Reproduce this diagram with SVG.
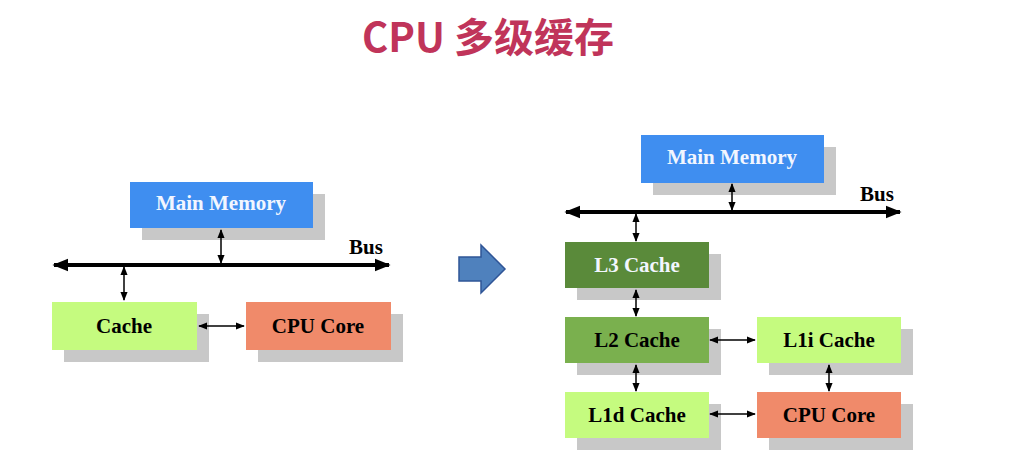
<svg xmlns="http://www.w3.org/2000/svg" width="1034" height="460" viewBox="0 0 1034 460">
<style>
.sh{fill:#c8c8c8}
.t{font-family:"Liberation Serif",serif;font-weight:bold;font-size:21px;text-anchor:middle}
.w{fill:#f2f6ff}
.bus{stroke:#000;stroke-width:4}
.c{stroke:#000;stroke-width:1.5;fill:none}
</style>
<defs>
<marker id="a" viewBox="0 0 10 10" refX="9" refY="5" markerWidth="6" markerHeight="6" orient="auto-start-reverse"><path d="M0,1L10,5L0,9z" fill="#000"/></marker>
<marker id="b" viewBox="0 0 10 10" refX="9" refY="5" markerWidth="4" markerHeight="4" orient="auto-start-reverse"><path d="M0,1L10,5L0,9z" fill="#000"/></marker>
</defs>
<rect width="1034" height="460" fill="#fff"/>
<text x="488" y="52" font-family="'Noto Sans CJK SC',sans-serif" font-weight="bold" font-size="40" fill="#c0345a" text-anchor="middle">CPU 多级缓存</text>
<g id="arrow"><path d="M459,257h22v-12l24,24l-24,24v-12h-22z" fill="#4f81bd" stroke="#2f5597" stroke-width="1.5"/></g>
<g id="mm1"><rect class="sh" x="142" y="194" width="183" height="46"/><rect x="130" y="182" width="183" height="46" fill="#3f8ef0"/><text class="t w" x="221" y="210">Main Memory</text></g>
<g id="cache1"><rect class="sh" x="64" y="314" width="145" height="48"/><rect x="52" y="302" width="145" height="48" fill="#c5fb7f"/><text class="t" x="124" y="333">Cache</text></g>
<g id="core1"><rect class="sh" x="258" y="314" width="145" height="48"/><rect x="246" y="302" width="145" height="48" fill="#f08a6a"/><text class="t" x="318" y="333">CPU Core</text></g>
<g id="mm2"><rect class="sh" x="653" y="147" width="183" height="48"/><rect x="641" y="135" width="183" height="48" fill="#3f8ef0"/><text class="t w" x="732" y="164">Main Memory</text></g>
<g id="l3"><rect class="sh" x="577" y="254" width="144" height="46"/><rect x="565" y="242" width="144" height="46" fill="#5a8a3a"/><text class="t w" x="637" y="272">L3 Cache</text></g>
<g id="l2"><rect class="sh" x="577" y="329" width="144" height="46"/><rect x="565" y="317" width="144" height="46" fill="#7ab04e"/><text class="t" x="637" y="347">L2 Cache</text></g>
<g id="l1i"><rect class="sh" x="769" y="329" width="144" height="46"/><rect x="757" y="317" width="144" height="46" fill="#c5fb7f"/><text class="t" x="829" y="347">L1i Cache</text></g>
<g id="l1d"><rect class="sh" x="577" y="404" width="144" height="46"/><rect x="565" y="392" width="144" height="46" fill="#c5fb7f"/><text class="t" x="637" y="422">L1d Cache</text></g>
<g id="core2"><rect class="sh" x="769" y="404" width="144" height="46"/><rect x="757" y="392" width="144" height="46" fill="#f08a6a"/><text class="t" x="829" y="422">CPU Core</text></g>
<g id="connectors">
<line class="bus" x1="54" y1="265" x2="389" y2="265" marker-start="url(#b)" marker-end="url(#b)"/>
<text class="t" x="366" y="254">Bus</text>
<line class="c" x1="221" y1="230" x2="221" y2="263" marker-start="url(#a)" marker-end="url(#a)"/>
<line class="c" x1="124" y1="267" x2="124" y2="300" marker-start="url(#a)" marker-end="url(#a)"/>
<line class="c" x1="199" y1="326" x2="244" y2="326" marker-start="url(#a)" marker-end="url(#a)"/>
<line class="bus" x1="566" y1="212" x2="900" y2="212" marker-start="url(#b)" marker-end="url(#b)"/>
<text class="t" x="877" y="201">Bus</text>
<line class="c" x1="732" y1="184" x2="732" y2="210" marker-start="url(#a)" marker-end="url(#a)"/>
<line class="c" x1="636" y1="214" x2="636" y2="241" marker-start="url(#a)" marker-end="url(#a)"/>
<line class="c" x1="636" y1="290" x2="636" y2="316" marker-start="url(#a)" marker-end="url(#a)"/>
<line class="c" x1="636" y1="365" x2="636" y2="391" marker-start="url(#a)" marker-end="url(#a)"/>
<line class="c" x1="710" y1="340" x2="755" y2="340" marker-start="url(#a)" marker-end="url(#a)"/>
<line class="c" x1="710" y1="414" x2="755" y2="414" marker-start="url(#a)" marker-end="url(#a)"/>
<line class="c" x1="829" y1="365" x2="829" y2="391" marker-start="url(#a)" marker-end="url(#a)"/>
</g>
</svg>
